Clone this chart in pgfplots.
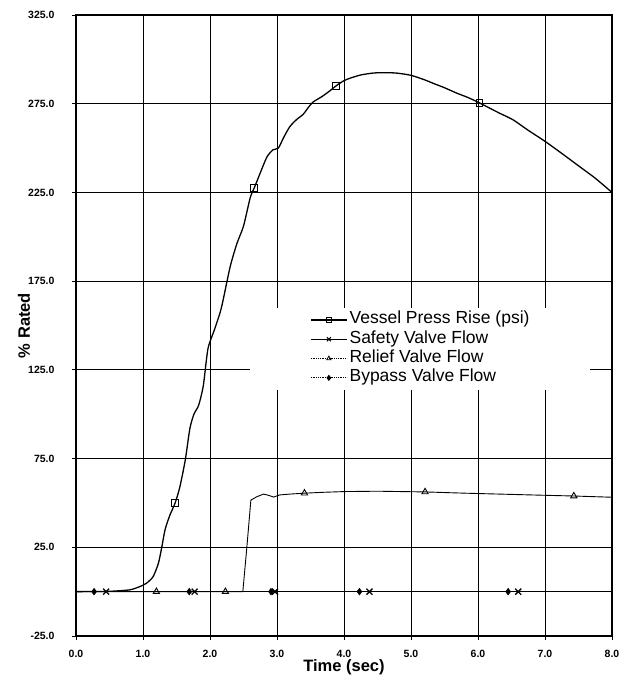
\documentclass[border=0pt]{standalone}
\usepackage{pgfplots}
\pgfplotsset{compat=1.18}
\usepackage{fontspec}
\setmainfont{Liberation Sans}
\pgfplotstableread{
x y
0.00 0
0.50 0.2
0.80 1.0
0.95 2.8
1.05 4.7
1.15 8.4
1.23 16
1.28 25
1.33 35
1.40 43
1.48 50
1.55 59
1.63 74
1.70 92
1.76 100
1.83 105
1.90 116
1.97 137
2.07 148
2.17 160
2.30 183
2.40 196
2.50 206
2.60 222
2.66 227.5
2.75 236
2.85 245
2.94 249
3.02 250
3.10 256
3.19 262
3.29 266
3.39 269
3.47 273
3.54 276
3.67 279
3.78 282
3.88 285
4.00 288
4.10 289.5
4.25 291.2
4.44 292.3
4.64 292.5
4.80 292.2
5.00 291
5.20 288.5
5.33 286.5
5.50 284
5.68 281
5.85 278.5
6.02 275.5
6.20 272
6.33 269.5
6.52 266
6.75 260
7.00 253.8
7.25 247
7.50 240
7.75 233
8.00 225
}\vessel
\pgfplotstableread{
x y
1.48 50
2.66 227.5
3.88 285
6.02 275.5
}\vesselmk
\pgfplotstableread{
x y
0.00 0
2.49 0
2.55 25
2.61 51.6
2.70 53.5
2.80 55
2.88 54.2
2.95 53.3
3.04 54.5
3.20 55
3.41 55.5
3.70 56
4.00 56.4
4.50 56.6
5.21 56.2
5.80 55.5
6.50 54.8
7.00 54.3
7.43 53.9
8.00 53.2
}\relief
\pgfplotstableread{
x y
1.20 0
2.23 0
3.41 55.5
5.21 56.2
7.43 53.9
}\reliefmk
\pgfplotstableread{
x y
0.00 0
8.00 0
}\zero
\pgfplotstableread{
x y
0.45 0
1.77 0
2.97 0
4.38 0
6.60 0
}\safetymk
\pgfplotstableread{
x y
0.27 0
1.69 0
2.91 0
4.23 0
6.45 0
}\bypassmk
\begin{document}
\begin{tikzpicture}
\useasboundingbox (-76pt,-46pt) rectangle (557pt,636pt);
\begin{axis}[
  scale only axis,
  width=536pt, height=621pt,
  xmin=0, xmax=8, ymin=-25, ymax=325,
  xtick={0,1,...,8},
  ytick={-25,25,75,125,175,225,275,325},
  grid=major,
  major grid style={black, line width=0.9pt},
  axis line style={black, line width=1.2pt},
  tick pos=left, tick align=outside,
  major tick length=4pt,
  tick style={black, line width=0.9pt},
  every tick label/.append style={font=\fontsize{10.5}{12}\selectfont\bfseries},
  xticklabel style={yshift=-7pt},
  yticklabel style={xshift=-14pt},
  /pgf/number format/.cd, fixed, fixed zerofill, precision=1, assume math mode=true,
  /pgfplots/.cd,
  xlabel={Time (sec)},
  ylabel={\% Rated},
  every axis x label/.style={at={(axis description cs:0.5,-0.0505)},anchor=center,font=\fontsize{16.5}{18}\selectfont\bfseries},
  every axis y label/.style={at={(axis description cs:-0.097,0.5)},rotate=90,anchor=center,font=\fontsize{16.5}{18}\selectfont\bfseries},
  legend cell align=left,
  legend style={at={(0.3246,0.528)}, anchor=north west, draw=none, fill=white,
    font=\fontsize{17.5}{19}\selectfont,
    inner xsep=60pt, inner ysep=2pt,
    column sep=2pt, row sep=0pt,
    nodes={inner xsep=0pt, inner ysep=0pt, text height=13.5pt, text depth=5.8pt}},
  legend image code/.code={\draw[#1, mark=none] (0pt,0pt) -- (36pt,0pt); \draw[#1, solid] plot coordinates {(18pt,0pt)};},
]
% lines
\addplot[black, line width=0.8pt, forget plot] table {\zero};
\addplot[black, line width=0.9pt, densely dotted, forget plot] table {\zero};
\addplot[black, line width=0.9pt, forget plot] table {\relief};
\addplot[black, line width=1.3pt, smooth, tension=0.4, forget plot] table {\vessel};
% markers
\addplot[only marks, mark=square, mark size=3.3pt, mark options={black, fill=white, line width=0.9pt}, forget plot] table {\vesselmk};
\addplot[only marks, mark=x, mark size=4.2pt, mark options={black, line width=1.3pt}, forget plot] table {\safetymk};
\addplot[only marks, mark=triangle, mark size=3.6pt, mark options={black, fill=white, line width=0.9pt}, forget plot] table {\reliefmk};
\addplot[only marks, mark=diamond*, mark size=3.4pt, mark options={black, fill=black}, forget plot] table {\bypassmk};
% legend
\addlegendimage{black, line width=1.4pt, mark=square, mark size=2.3pt, mark options={fill=white, line width=0.8pt}}
\addlegendentry{Vessel Press Rise (psi)}
\addlegendimage{black, line width=1.4pt, mark=x, mark size=2.8pt, mark options={line width=1pt}}
\addlegendentry{Safety Valve Flow}
\addlegendimage{black, line width=0.8pt, densely dotted, mark=triangle, mark size=2.5pt, mark options={solid, fill=white, line width=0.8pt}}
\addlegendentry{Relief Valve Flow}
\addlegendimage{black, line width=0.8pt, densely dotted, mark=diamond*, mark size=2.5pt, mark options={solid, fill=black}}
\addlegendentry{Bypass Valve Flow}
\end{axis}
\end{tikzpicture}
\end{document}
